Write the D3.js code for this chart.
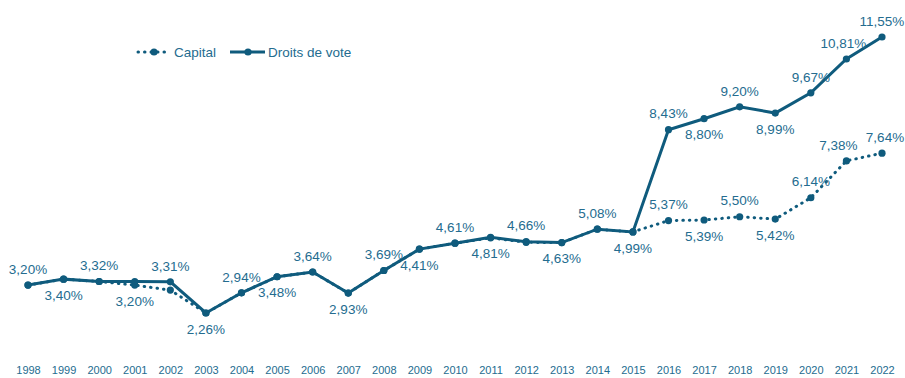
<!DOCTYPE html>
<html><head><meta charset="utf-8">
<script src="https://cdn.jsdelivr.net/npm/d3@7/dist/d3.min.js"></script>
<style>body{margin:0;background:#fff}svg{display:block}</style>
</head><body>
<svg id="c" width="905" height="378"></svg>
<script>
const years = ["1998","1999","2000","2001","2002","2003","2004","2005","2006","2007","2008","2009","2010","2011","2012","2013","2014","2015","2016","2017","2018","2019","2020","2021","2022"];
const droitsDeVote = [3.20,3.40,3.32,3.32,3.31,2.26,2.94,3.48,3.64,2.93,3.69,4.41,4.61,4.81,4.66,4.63,5.08,4.99,8.43,8.80,9.20,8.99,9.67,10.81,11.55];
const capital = [3.20,3.40,3.32,3.20,3.03,2.26,2.94,3.48,3.64,2.93,3.69,4.41,4.61,4.79,4.64,4.63,5.08,4.99,5.37,5.39,5.50,5.42,6.14,7.38,7.64];
// labels: [index, position]
const voteLabels = [[0,"up"],[1,"down"],[2,"up"],[4,"up"],[5,"down"],[6,"up"],[7,"down"],[8,"up"],[9,"down"],[10,"up"],[11,"down"],[12,"up"],[13,"down"],[14,"up"],[15,"down"],[16,"up"],[17,"down"],[18,"up"],[19,"down"],[20,"up"],[21,"down"],[22,"up"],[23,"up"],[24,"up"]];
const capitalLabels = [[3,"down"],[18,"up"],[19,"down"],[20,"up"],[21,"down"],[22,"up"],[23,"up"],[24,"up"]];

const color = "#0f5b7d", textColor = "#246c8f";
const svg = d3.select("#c");
const x = d3.scalePoint().domain(years).range([28, 882]);
const y = d3.scaleLinear().domain([2.26, 11.55]).range([313, 37]);
const fmt = v => v.toFixed(2).replace(".", ",") + "%";

const line = d3.line().x((d,i)=>x(years[i])).y(d=>y(d));

svg.append("path").datum(capital).attr("d", line).attr("fill","none")
  .attr("stroke", color).attr("stroke-width", 3).attr("stroke-dasharray","0.5,6").attr("stroke-linecap","round");
svg.selectAll(".cd").data(capital).join("circle").attr("cx",(d,i)=>x(years[i])).attr("cy",d=>y(d)).attr("r",3.6).attr("fill",color);

svg.append("path").datum(droitsDeVote).attr("d", line).attr("fill","none")
  .attr("stroke", color).attr("stroke-width", 3);
svg.selectAll(".vd").data(droitsDeVote).join("circle").attr("cx",(d,i)=>x(years[i])).attr("cy",d=>y(d)).attr("r",3.6).attr("fill",color);

function labels(arr, data, nudge){
  svg.append("g").selectAll("text").data(arr).join("text")
    .attr("x", d=>x(years[d[0]]) + (nudge[d[0]] || 0))
    .attr("y", d=>y(data[d[0]]) + (d[1]==="up" ? -16 : 16))
    .attr("dy","0.35em").attr("text-anchor","middle")
    .attr("font-family","Liberation Sans, Arial, sans-serif").attr("font-size",13.5)
    .attr("fill", textColor).text(d=>fmt(data[d[0]]));
}
labels(voteLabels, droitsDeVote, {23:-3});
labels(capitalLabels, capital, {23:-8, 24:3});

// x axis
const ax = svg.append("g").attr("transform","translate(0,366)").call(d3.axisBottom(x).tickSize(0).tickPadding(0));
ax.select(".domain").remove();
ax.selectAll("text").attr("font-family","Liberation Sans, Arial, sans-serif").attr("font-size",11).attr("fill",textColor).attr("dy","0.71em");

// legend
const lg = svg.append("g").attr("font-family","Liberation Sans, Arial, sans-serif").attr("font-size",13.5).attr("fill",textColor);
lg.append("line").attr("x1",138).attr("x2",167).attr("y1",52).attr("y2",52).attr("stroke",color).attr("stroke-width",3).attr("stroke-dasharray","0.5,6").attr("stroke-linecap","round");
lg.append("circle").attr("cx",154).attr("cy",52).attr("r",3.6).attr("fill",color);
lg.append("text").attr("x",174).attr("y",52).attr("dy","0.35em").text("Capital");
lg.append("line").attr("x1",230).attr("x2",265).attr("y1",52).attr("y2",52).attr("stroke",color).attr("stroke-width",3);
lg.append("circle").attr("cx",248).attr("cy",52).attr("r",3.6).attr("fill",color);
lg.append("text").attr("x",268).attr("y",52).attr("dy","0.35em").text("Droits de vote");
</script>
</body></html>
